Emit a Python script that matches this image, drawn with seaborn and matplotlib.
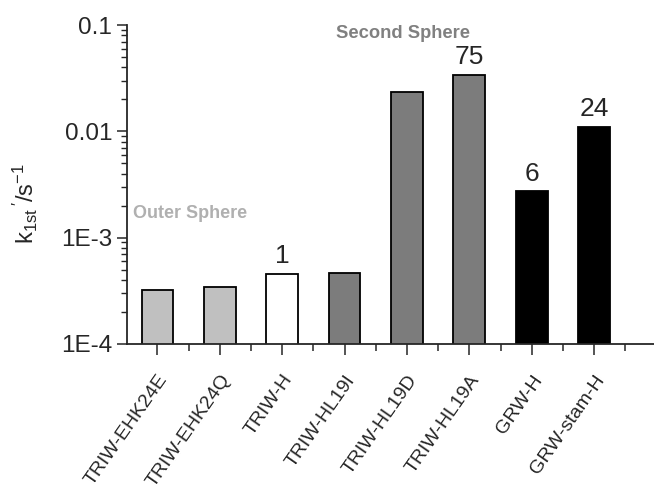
import matplotlib
matplotlib.use("Agg")
import matplotlib.pyplot as plt
import matplotlib.ticker as mticker
import pandas as pd
import seaborn as sb

# data
mutants = ["TRIW-EHK24E", "TRIW-EHK24Q", "TRIW-H", "TRIW-HL19I",
           "TRIW-HL19D", "TRIW-HL19A", "GRW-H", "GRW-stam-H"]
rates = [3.22e-4, 3.41e-4, 4.55e-4, 4.69e-4, 0.0235, 0.034, 0.00273, 0.011]
fold_labels = ["", "", "1", "", "", "75", "6", "24"]
bar_colors = ["#c0c0c0", "#c0c0c0", "#ffffff", "#7c7c7c",
              "#7c7c7c", "#7c7c7c", "#000000", "#000000"]

df = pd.DataFrame({"mutant": mutants, "rate": rates})

sb.set_style("ticks")
plt.rcParams["font.family"] = ["Liberation Sans", "DejaVu Sans"]
plt.rcParams["mathtext.fontset"] = "custom"
plt.rcParams["mathtext.rm"] = "Liberation Sans"
plt.rcParams["mathtext.it"] = "Liberation Sans"

fig = plt.figure(figsize=(6.54, 4.92), dpi=100)
ax = fig.add_axes([0.194, 0.301, 0.806, 0.648])
ax.set_yscale("log")

sb.barplot(data=df, x="mutant", y="rate", hue="mutant",
           palette=bar_colors, legend=False, width=0.51,
           edgecolor="black", linewidth=1.3, ax=ax)

ax.set_ylim(1e-4, 0.1)
ax.set_xlim(-0.49, 7.96)

# y ticks
ax.yaxis.set_major_locator(mticker.FixedLocator([1e-4, 1e-3, 1e-2, 1e-1]))
ax.yaxis.set_major_formatter(mticker.FixedFormatter(["1E-4", "1E-3", "0.01", "0.1"]))
ax.yaxis.set_minor_locator(mticker.LogLocator(base=10, subs=range(2, 10)))
ax.yaxis.set_minor_formatter(mticker.NullFormatter())

# x minor ticks between bars
ax.xaxis.set_minor_locator(mticker.FixedLocator([i + 0.5 for i in range(8)]))

ax.tick_params(axis="y", which="major", labelsize=17.5, length=7, width=1.1)
ax.tick_params(axis="y", which="minor", length=4, width=1)
ax.tick_params(axis="x", which="major", labelsize=14, length=8, width=1.1, pad=12)
ax.tick_params(axis="x", which="minor", length=5, width=1.1)

for lbl in ax.get_xticklabels():
    lbl.set_rotation(55)
    lbl.set_ha("right")
    lbl.set_rotation_mode("anchor")

for sp in ["top", "right"]:
    ax.spines[sp].set_visible(False)
for sp in ["left", "bottom"]:
    ax.spines[sp].set_linewidth(1.3)

ax.set_xlabel("")
ax.set_ylabel(r"$\mathregular{k_{1st}\,'/s^{-1}}$", fontsize=17)
ax.yaxis.set_label_coords(-0.165, 0.44)

for i, txt in enumerate(fold_labels):
    if txt:
        ax.annotate(txt, (i, rates[i]), xytext=(0, 4), textcoords="offset points",
                    ha="center", va="bottom", fontsize=19)

ax.text(0.52, 1.7e-3, "Outer Sphere", color="#b0b0b0", fontsize=13,
        fontweight="bold", ha="center", va="center")
ax.text(3.94, 0.084, "Second Sphere", color="#808080", fontsize=13.2,
        fontweight="bold", ha="center", va="center")

fig.savefig("out.png", dpi=100)
